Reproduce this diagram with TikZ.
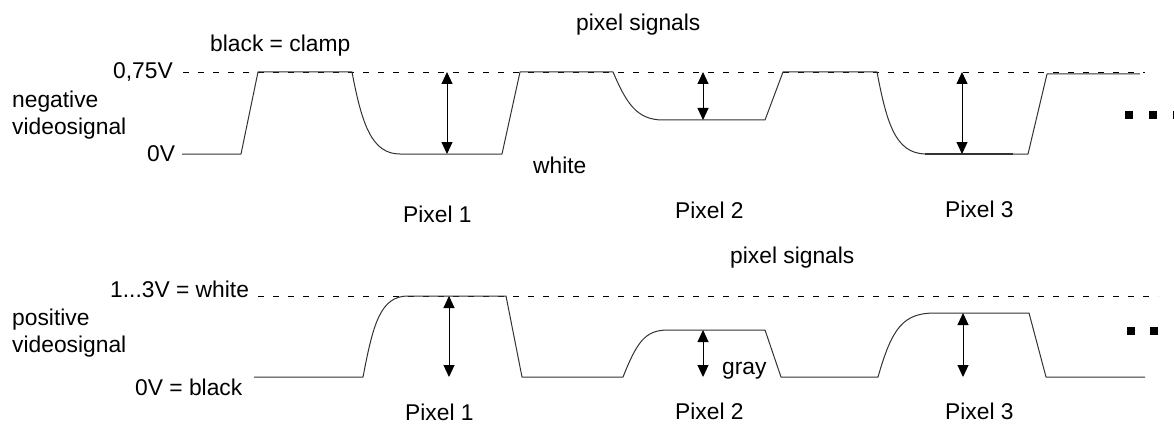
\documentclass[tikz,border=0pt]{standalone}
\usepackage{fontspec}
\setmainfont{Liberation Sans}
\usetikzlibrary{arrows.meta}
\begin{document}
\begin{tikzpicture}[x=1pt,y=-1pt,
  sig/.style={line width=1pt, black!80, line join=round},
  lvl/.style={line width=0.8pt, dash pattern=on 6pt off 9pt},
  amp/.style={line width=1pt, {Triangle[width=11pt,length=12pt]}-{Triangle[width=11pt,length=12pt]}},
  lbl/.style={font=\fontsize{22.8}{26}\selectfont, inner sep=0pt, anchor=base west},
  dotbox/.style={fill=black, minimum size=8pt, inner sep=0pt}]
\useasboundingbox (0,0) rectangle (1174,425);
% ---------- top: negative videosignal ----------
\node[lbl] (clamp) at (210,52) {black = clamp};
\node[lbl] (ps1) at (576,31) {pixel signals};
\node[lbl] (v75) at (113,79) {0,75V};
\node[lbl] (neg1) at (12,108) {negative};
\node[lbl] (neg2) at (12,134) {videosignal};
\node[lbl] (v0) at (147,161) {0V};
\node[lbl] (white1) at (533,173) {white};
\node[lbl] (tp1) at (403,222) {Pixel 1};
\node[lbl] (tp2) at (675,218) {Pixel 2};
\node[lbl] (tp3) at (945,217) {Pixel 3};
\draw[lvl] (183,72) -- (1145,72);
\draw[sig] (182,154) -- (241,154) -- (258,72) -- (352,72)
  .. controls (362,125) and (372,154) .. (400,154) -- (502,154) -- (520,72) -- (613,72)
  .. controls (626,102) and (636,120) .. (663,120) -- (765,120) -- (783,72) -- (877,72)
  .. controls (887,125) and (896,153) .. (925,154) -- (1028,154) -- (1047,74) -- (1140,74);
\draw[sig, line width=1.6pt] (925,154) -- (1013,154);
\coordinate (ta1) at (447,72);  \coordinate (tb1) at (447,154);
\coordinate (ta2) at (703,72);  \coordinate (tb2) at (703,120);
\coordinate (ta3) at (962,72);  \coordinate (tb3) at (962,154);
\draw[amp] (ta1) -- (tb1);
\draw[amp] (ta2) -- (tb2);
\draw[amp] (ta3) -- (tb3);
\node[dotbox] (d1) at (1129,115) {};
\node[dotbox] (d2) at (1153,115) {};
\node[dotbox] (d3) at (1177,115) {};
% ---------- bottom: positive videosignal ----------
\node[lbl] (ps2) at (730,263) {pixel signals};
\node[lbl] (v3) at (110,297) {1...3V = white};
\node[lbl] (pos1) at (12,325) {positive};
\node[lbl] (pos2) at (12,352) {videosignal};
\node[lbl] (vb) at (135,395) {0V = black};
\node[lbl] (gray) at (722,374) {gray};
\node[lbl] (bp1) at (405,420) {Pixel 1};
\node[lbl] (bp2) at (675,419) {Pixel 2};
\node[lbl] (bp3) at (945,419) {Pixel 3};
\draw[lvl] (258,296) -- (1158,296);
\draw[sig] (254,377) -- (363,377)
  .. controls (373,325) and (380,296) .. (408,296) -- (506,296) -- (522,377) -- (623,377)
  .. controls (637,342) and (645,330) .. (668,330) -- (765,330) -- (781,377) -- (878,377)
  .. controls (892,328) and (903,313) .. (935,313) -- (1029,313) -- (1046,377) -- (1145,377);
\coordinate (ba1) at (449,296);  \coordinate (bb1) at (449,377);
\coordinate (ba2) at (703,330);  \coordinate (bb2) at (703,377);
\coordinate (ba3) at (963,313);  \coordinate (bb3) at (963,377);
\draw[amp] (ba1) -- (bb1);
\draw[amp] (ba2) -- (bb2);
\draw[amp] (ba3) -- (bb3);
\node[dotbox] (e1) at (1131,331) {};
\node[dotbox] (e2) at (1154,331) {};
\end{tikzpicture}
\end{document}
